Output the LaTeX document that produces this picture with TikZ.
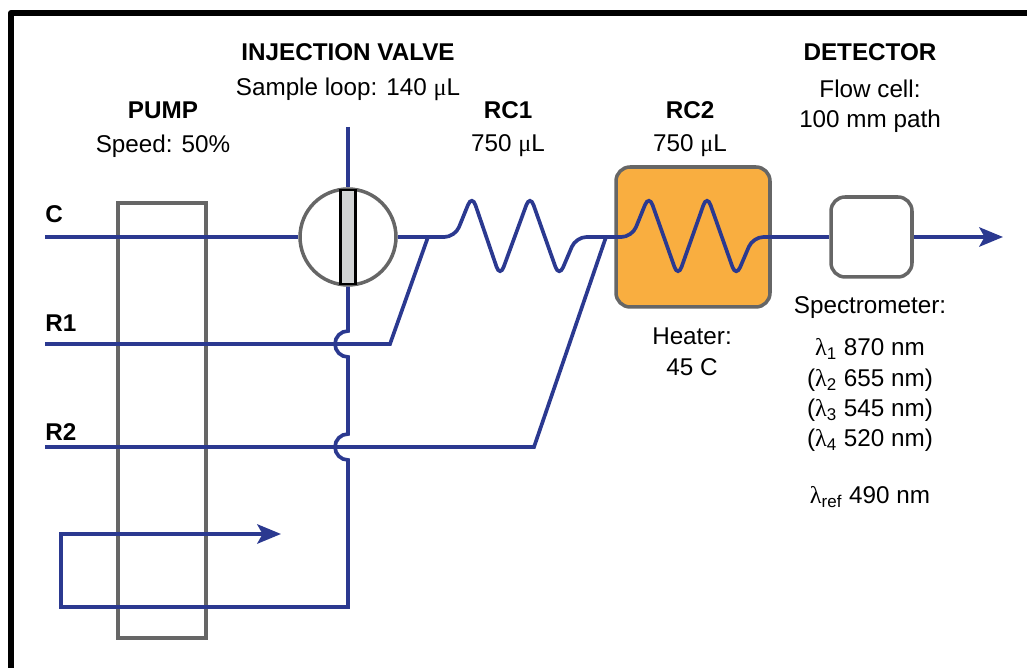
\documentclass[tikz,border=0pt]{standalone}
\usepackage{fontspec}
\setmainfont{Liberation Sans}
\newfontfamily\grk{Liberation Serif}
\usetikzlibrary{arrows.meta}

\definecolor{pipeblue}{RGB}{43,57,144}
\definecolor{framegray}{RGB}{102,102,102}
\definecolor{heatorange}{RGB}{249,174,64}
\definecolor{rotorgray}{RGB}{209,211,212}

\newcommand{\ul}{{\grk μ}L}
\newcommand{\lam}[1]{{\grk λ}\textsubscript{#1}}

\tikzset{
  pipe/.style={pipeblue, line width=2.1pt},
  flowtip/.style={-{Stealth[length=13.5pt,width=11pt,inset=3pt]}},
  txt/.style={inner sep=0pt, font=\fontsize{13.8}{16}\selectfont},
  heading/.style={inner sep=0pt, font=\fontsize{13.8}{16}\selectfont\bfseries},
}

\begin{document}
\begin{tikzpicture}[x=0.02cm, y=0.02cm]
\useasboundingbox (0,0) rectangle (1027,668);
% frame
\draw [line width=3.4pt, line join=round](11,0) -- (11,655) -- (1027,655);

% pump, valve, heater, flow cell
\node [draw=framegray, line width=2pt, minimum width=1.76cm, minimum height=8.7cm] (pump) at (162,247.5) {};
\node [circle, draw=framegray, fill=white, line width=2pt, minimum size=1.92cm] (valve) at (348,431) {};
\node [draw=black, fill=rotorgray, line width=1.4pt, minimum width=0.3cm, minimum height=1.88cm] (rotor) at (valve) {};
\node [draw=framegray, fill=heatorange, line width=2pt, rounded corners=8pt, minimum width=3.08cm, minimum height=2.8cm] (rc2) at (693,431) {};
\node [draw=framegray, fill=white, line width=2pt, rounded corners=8pt, minimum width=1.62cm, minimum height=1.6cm] (cell) at (871.5,431) {};

% inlets
\coordinate (c0) at (45,431);
\coordinate (r1) at (45,324);
\coordinate (r2) at (45,221);
\coordinate (mix1) at (428,431);
\coordinate (mix2) at (606,431);
\coordinate (loopin) at (348,541);
\coordinate (loopend) at (281,134);
\coordinate (out) at (1003,431);

\draw [pipe](c0) -- (valve.west);
\draw [pipe](r1) -- (390,324) -- (mix1);
\draw [pipe](r2) -- (534,221) -- (mix2);
\draw [pipe](loopin) -- (valve.north);
\draw [pipe, flowtip](valve.south) -- (348,337) arc (90:270:13) -- (348,234) arc (90:270:13) -- (348,61) -- (61,61) -- (61,134) -- (loopend);

% coils
\draw [pipe, rounded corners=6pt](valve.east) -- (455,431) -- (472,473) -- (500,391) -- (530,473) -- (559,391) -- (576,431) -- (632,431) -- (649,473) -- (678,391) -- (707,473) -- (736,391) -- (753,431) -- (rc2.east);
\draw [pipe](rc2.east) -- (cell.west);
\draw [pipe, flowtip](cell.east) -- (out);

% labels
\node [heading, anchor=west] (lc) at (45,454) {C};
\node [heading, anchor=west] (lr1) at (45,345) {R1};
\node [heading, anchor=west] (lr2) at (45,236) {R2};
\node [heading] (lpump) at (163,558) {PUMP};
\node [txt] (lspeed) at (163,522) {Speed: 50\%};
\node [heading] (lvalve) at (348,616) {INJECTION VALVE};
\node [txt] (lloop) at (348,579) {Sample loop: 140 \ul};
\node [heading] (lrc1) at (508,558) {RC1};
\node [txt] (lvol1) at (508,522) {750 \ul};
\node [heading] (lrc2) at (690,558) {RC2};
\node [txt] (lvol2) at (690,522) {750 \ul};
\node [txt] (lheat) at (692,332) {Heater:};
\node [txt] (ltemp) at (692,301) {45 C};
\node [heading] (ldet) at (870,616) {DETECTOR};
\node [txt] (lcell) at (870,579) {Flow cell:};
\node [txt] (lpath) at (870,547) {100 mm path};
\node [txt] (lspec) at (870,360) {Spectrometer:};
\node [txt] (lw1) at (870,319) {\lam{1} 870 nm};
\node [txt] (lw2) at (870,288) {(\lam{2} 655 nm)};
\node [txt] (lw3) at (870,258) {(\lam{3} 545 nm)};
\node [txt] (lw4) at (870,228) {(\lam{4} 520 nm)};
\node [txt] (lwref) at (870,171) {\lam{ref} 490 nm};
\end{tikzpicture}
\end{document}
